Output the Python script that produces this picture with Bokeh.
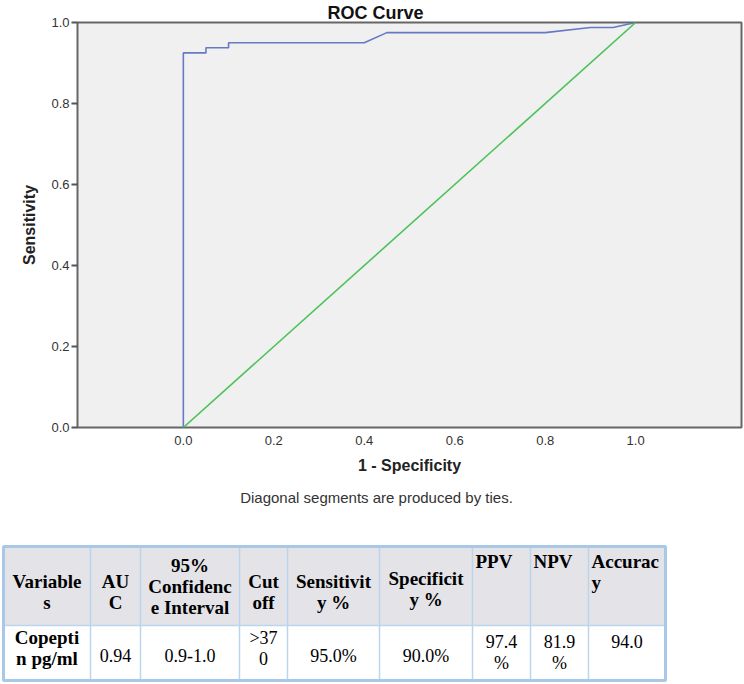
from bokeh.plotting import figure
from bokeh.models import Range1d, FixedTicker, PrintfTickFormatter
from bokeh.core.properties import value
from bokeh.embed import file_html
from bokeh.resources import INLINE

# ---------------- data ----------------
fpr = [0.0, 0.0, 0.05, 0.05, 0.10, 0.10, 0.40, 0.45, 0.80, 0.90, 0.95, 1.0]
tpr = [0.0, 0.925, 0.925, 0.9375, 0.9375, 0.95, 0.95, 0.975, 0.975, 0.9875, 0.9875, 1.0]
ref_x = [0.0, 1.0]
ref_y = [0.0, 1.0]
x_ticks = [0.0, 0.2, 0.4, 0.6, 0.8, 1.0]
y_ticks = [0.0, 0.2, 0.4, 0.6, 0.8, 1.0]
title_text = "ROC Curve"
x_label = "1 - Specificity"
y_label = "Sensitivity"
footnote = "Diagonal segments are produced by ties."

header_cells = [["Variable", "s"], ["AU", "C"], ["95%", "Confidenc", "e Interval"],
                ["Cut", "off"], ["Sensitivit", "y %"], ["Specificit", "y %"],
                ["PPV"], ["NPV"], ["Accurac", "y"]]
row_cells = [["Copepti", "n pg/ml"], ["0.94"], ["0.9-1.0"], [">37", "0"],
             ["95.0%"], ["90.0%"], ["97.4", "%"], ["81.9", "%"], ["94.0"]]

SANS = "Liberation Sans"
SERIF = "Liberation Serif"

# ---------------- chart ----------------
p = figure(width=744, height=480, output_backend="svg", toolbar_location=None,
           x_range=Range1d(-0.234, 1.234), y_range=Range1d(0, 1),
           min_border_left=77, min_border_right=3, min_border_top=21, min_border_bottom=53)
p.background_fill_color = "#f0f0f0"
p.border_fill_color = "white"
p.outline_line_color = "#666666"
p.outline_line_width = 2
p.xgrid.visible = False
p.ygrid.visible = False

p.title.text = title_text
p.title.align = "left"
p.title.offset = 250
p.title.standoff = 0
p.title.text_font = SANS
p.title.text_font_style = "bold"
p.title.text_font_size = "18px"
p.title.text_color = "#111111"

p.line(fpr, tpr, line_color="#6679c4", line_width=1.6)
p.line(ref_x, ref_y, line_color="#4cc35a", line_width=1.6)

for ax in (p.xaxis[0], p.yaxis[0]):
    ax.axis_line_color = None
    ax.minor_tick_line_color = None
    ax.formatter = PrintfTickFormatter(format="%.1f")
    ax.major_label_text_font = SANS
    ax.major_label_text_font_size = "13px"
    ax.major_label_text_color = "#333333"
    ax.axis_label_text_font = SANS
    ax.axis_label_text_font_style = "bold"
    ax.axis_label_text_font_size = "16px"
    ax.axis_label_text_color = "#222222"

p.xaxis.ticker = FixedTicker(ticks=x_ticks)
p.yaxis.ticker = FixedTicker(ticks=y_ticks)
p.xaxis.axis_label = x_label
p.yaxis.axis_label = y_label
p.xaxis.major_tick_out = 0
p.xaxis.major_tick_in = 0
p.xaxis.major_label_standoff = 8
p.xaxis.axis_label_standoff = 9
p.yaxis.major_tick_out = 6
p.yaxis.major_tick_in = 0
p.yaxis.major_tick_line_color = "#555555"
p.yaxis.major_tick_line_width = 2
p.yaxis.major_label_standoff = 2
p.yaxis.axis_label_standoff = 10

# ---------------- footnote + table ----------------
TOP = 480
t = figure(width=744, height=684 - TOP, output_backend="svg", toolbar_location=None,
           x_range=Range1d(0, 744), y_range=Range1d(684 - TOP, 0),
           min_border=0, min_border_left=0, min_border_right=0,
           min_border_top=0, min_border_bottom=0,
           x_axis_location=None, y_axis_location=None)
t.outline_line_color = None
t.xgrid.visible = False
t.ygrid.visible = False
t.background_fill_color = "white"
t.border_fill_color = "white"

t.text(x=[376], y=[497 - TOP], text=[footnote], text_align="center", text_baseline="middle",
       text_font=value(SANS), text_font_size="15px", text_color="#333333")

col_edges = [3, 90, 140, 239, 287, 379, 472, 530, 588, 665]
row_edges = [546 - TOP, 625 - TOP, 680 - TOP]
header_first_y = [581, 581, 565, 581, 581, 578, 561, 561, 561]
header_align = ["center"] * 6 + ["left"] * 3
row_first_y = [637, 655, 655, 637, 655, 655, 641, 641, 641]
row_bold = [True] + [False] * 8
gap = 21

t.quad(left=[col_edges[0]], right=[col_edges[-1]], top=[row_edges[0]], bottom=[row_edges[1]],
       fill_color="#e3e3e8", line_color=None)
t.segment(x0=col_edges[1:-1], y0=[row_edges[0]] * 8, x1=col_edges[1:-1], y1=[row_edges[2]] * 8,
          line_color="#bcd5ee", line_width=1.5)
t.segment(x0=[col_edges[0]], y0=[row_edges[1]], x1=[col_edges[-1]], y1=[row_edges[1]],
          line_color="#bcd5ee", line_width=1.5)
t.quad(left=[col_edges[0]], right=[col_edges[-1]], top=[row_edges[0]], bottom=[row_edges[2]],
       fill_color=None, line_color="#a9c8e8", line_width=3)


def cell_texts(cells, first_y, aligns, bolds):
    out = {}
    for i, lines in enumerate(cells):
        a = aligns[i]
        xc = (col_edges[i] + col_edges[i + 1]) / 2 if a == "center" else col_edges[i] + 3
        d = out.setdefault((a, bolds[i]), {"x": [], "y": [], "text": []})
        for j, s in enumerate(lines):
            d["x"].append(xc)
            d["y"].append(first_y[i] - TOP + j * gap)
            d["text"].append(s)
    return out


for g in (cell_texts(header_cells, header_first_y, header_align, [True] * 9),
          cell_texts(row_cells, row_first_y, ["center"] * 9, row_bold)):
    for (a, b), d in g.items():
        t.text(x=d["x"], y=d["y"], text=d["text"], text_align=a, text_baseline="middle",
               text_font=value(SERIF), text_font_style="bold" if b else "normal",
               text_font_size="19px" if b else "18px", text_color="black")

open("out.html", "w").write(file_html([p, t], INLINE))
